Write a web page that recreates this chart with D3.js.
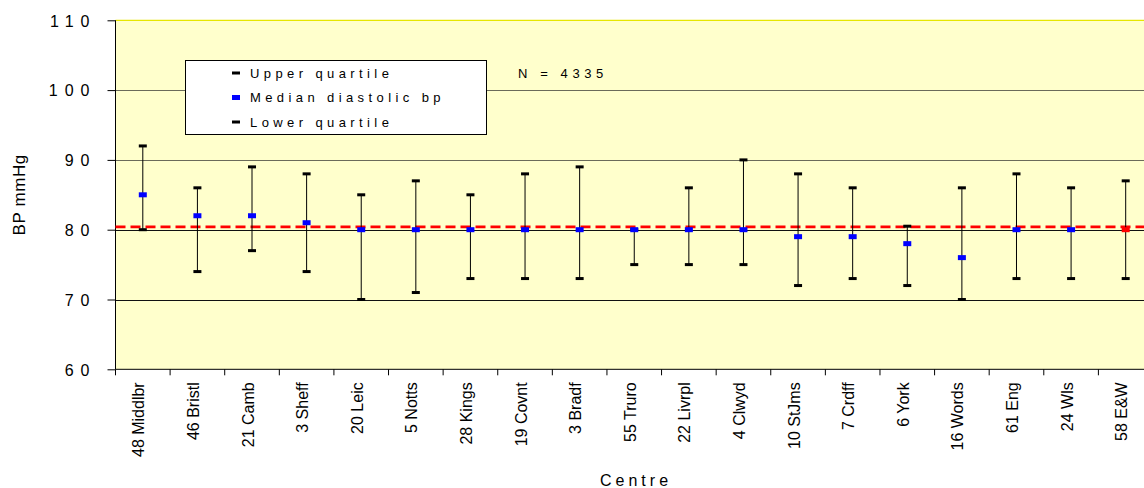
<!DOCTYPE html>
<html>
   <head>
    <title>Diastolic BP by centre | D3</title>
    <style>
        body {
            margin: 0;
            background: #fff;
            font-family: "Liberation Sans", Arial, sans-serif;
        }
    </style>
    <script src="https://d3js.org/d3.v7.min.js" charset="utf-8"></script>
   </head>
    <body>
        <script>
        // data
        var centres = ["48 Middlbr", "46 Bristl", "21 Camb", "3 Sheff", "20 Leic", "5 Notts",
            "28 Kings", "19 Covnt", "3 Bradf", "55 Truro", "22 Livrpl", "4 Clwyd", "10 StJms",
            "7 Crdff", "6 York", "16 Words", "61 Eng", "24 Wls", "58 E&W"];
        var upperQ  = [92, 86, 89, 88, 85, 87, 85, 88, 89, 80, 86, 90, 88, 86, 80.5, 86, 88, 86, 87];
        var medianBp = [85, 82, 82, 81, 80, 80, 80, 80, 80, 80, 80, 80, 79, 79, 78, 76, 80, 80, 80];
        var lowerQ  = [80, 74, 77, 74, 70, 71, 73, 73, 73, 75, 75, 75, 72, 73, 72, 70, 73, 73, 73];
        var overallMedian = 80.4;
        var yTicks = [60, 70, 80, 90, 100, 110];
        var legendLabels = ["Upper quartile", "Median diastolic bp", "Lower quartile"];
        var nText = "N = 4335";

        var width = 1144;
        var height = 488;
        // plot area edges (note: "top" is reserved on window, so use pTop etc.)
        var pLeft = 115.5, pRight = 1153, pTop = 20.3, pBottom = 369.3;

        var svg = d3.select("body")
            .append("svg")
            .attr("width", width)
            .attr("height", height);

        var x = d3.scaleBand().domain(centres).range([pLeft, pRight]);
        var y = d3.scaleLinear().domain([60, 110]).range([pBottom, pTop]);

        // plot background
        svg.append("rect")
            .attr("x", pLeft).attr("y", pTop)
            .attr("width", pRight - pLeft).attr("height", pBottom - pTop)
            .attr("fill", "#ffffcc");

        // top border is yellow
        svg.append("line")
            .attr("x1", pLeft).attr("x2", pRight)
            .attr("y1", pTop).attr("y2", pTop)
            .attr("stroke", "#e6e600").attr("stroke-width", 1.2);

        // gridlines
        svg.append("g").selectAll("line")
            .data(yTicks.filter(function(d) { return d > 60 && d < 110; }))
            .enter().append("line")
            .attr("x1", pLeft).attr("x2", pRight)
            .attr("y1", function(d) { return Math.round(y(d)) + 0.5; })
            .attr("y2", function(d) { return Math.round(y(d)) + 0.5; })
            .attr("stroke", function(d) { return d >= 90 ? "#6b6b5a" : "#111"; })
            .attr("stroke-width", 1);

        // y axis
        var yAxis = d3.axisLeft(y).tickValues(yTicks).tickSize(8).tickFormat(d3.format("d"));
        var gy = svg.append("g")
            .attr("transform", "translate(" + pLeft + ",0)")
            .call(yAxis);
        gy.select(".domain").attr("stroke", "#000").attr("d", "M0," + pTop + "V" + pBottom);
        gy.selectAll(".tick line").attr("stroke", "#000");
        gy.selectAll(".tick text")
            .attr("x", -19)
            .attr("dy", "0.36em")
            .style("font-size", "16px")
            .style("letter-spacing", "7px")
            .attr("fill", "#000");

        // x axis (ticks on band edges)
        var gx = svg.append("g");
        gx.append("line")
            .attr("x1", pLeft).attr("x2", pRight)
            .attr("y1", pBottom).attr("y2", pBottom)
            .attr("stroke", "#000");
        gx.selectAll(".xt")
            .data(centres)
            .enter().append("line")
            .attr("class", "xt")
            .attr("x1", function(d) { return x(d); })
            .attr("x2", function(d) { return x(d); })
            .attr("y1", pBottom).attr("y2", pBottom + 6)
            .attr("stroke", "#000");
        gx.selectAll(".xl")
            .data(centres)
            .enter().append("text")
            .attr("class", "xl")
            .attr("transform", function(d) {
                return "translate(" + (x(d) + x.bandwidth() / 2 + 1.5) + "," + (pBottom + 13) + ") rotate(-90)";
            })
            .attr("text-anchor", "end")
            .style("font-size", "16px")
            .text(function(d) { return d; });

        // axis titles
        svg.append("text")
            .attr("transform", "translate(25," + ((pTop + pBottom) / 2) + ") rotate(-90)")
            .attr("text-anchor", "middle")
            .style("font-size", "17px")
            .style("letter-spacing", "0.6px")
            .text("BP mmHg");
        svg.append("text")
            .attr("x", 600).attr("y", 486)
            .style("font-size", "16px")
            .style("letter-spacing", "4px")
            .text("Centre");

        // overall median reference line
        svg.append("line")
            .attr("x1", pLeft).attr("x2", pRight)
            .attr("y1", y(overallMedian)).attr("y2", y(overallMedian))
            .attr("stroke", "#ff0000")
            .attr("stroke-width", 2.6)
            .attr("stroke-dasharray", "10,5");

        // error bars
        var bars = svg.append("g").selectAll("g")
            .data(centres)
            .enter().append("g")
            .attr("transform", function(d) { return "translate(" + (x(d) + x.bandwidth() / 2) + ",0)"; });

        bars.append("line")
            .attr("y1", function(d, i) { return y(upperQ[i]); })
            .attr("y2", function(d, i) { return y(lowerQ[i]); })
            .attr("stroke", "#000").attr("stroke-width", 1);
        bars.append("rect")
            .attr("x", -4).attr("width", 8).attr("height", 3)
            .attr("y", function(d, i) { return y(upperQ[i]) - 1.5; })
            .attr("fill", "#000");
        bars.append("rect")
            .attr("x", -4).attr("width", 8).attr("height", 3)
            .attr("y", function(d, i) { return y(lowerQ[i]) - 1.5; })
            .attr("fill", "#000");
        bars.append("rect")
            .attr("x", -4).attr("width", 8).attr("height", 5)
            .attr("y", function(d, i) { return y(medianBp[i]) - 2.5; })
            .attr("fill", function(d, i) { return i === centres.length - 1 ? "#ff0000" : "#0000ff"; });

        // legend
        var lg = svg.append("g");
        lg.append("rect")
            .attr("x", 185.5).attr("y", 60.5)
            .attr("width", 301).attr("height", 74)
            .attr("fill", "#fff")
            .attr("stroke", "#000");
        var rowY = d3.scalePoint().domain(legendLabels).range([73, 122]);
        var legendColors = ["#000", "#0000ff", "#000"];
        var legendH = [3, 5, 3];
        lg.selectAll(".lm")
            .data(legendLabels)
            .enter().append("rect")
            .attr("x", 232).attr("width", 8)
            .attr("y", function(d, i) { return rowY(d) - legendH[i] / 2; })
            .attr("height", function(d, i) { return legendH[i]; })
            .attr("fill", function(d, i) { return legendColors[i]; });
        lg.selectAll(".lt")
            .data(legendLabels)
            .enter().append("text")
            .attr("x", 250)
            .attr("y", function(d) { return rowY(d) + 4.7; })
            .style("font-size", "13px")
            .style("letter-spacing", "4.4px")
            .text(function(d) { return d; });

        svg.append("text")
            .attr("x", 518).attr("y", 77.7)
            .style("font-size", "13px")
            .style("letter-spacing", "4.6px")
            .text(nText);
        </script>
    </body>
</html>
